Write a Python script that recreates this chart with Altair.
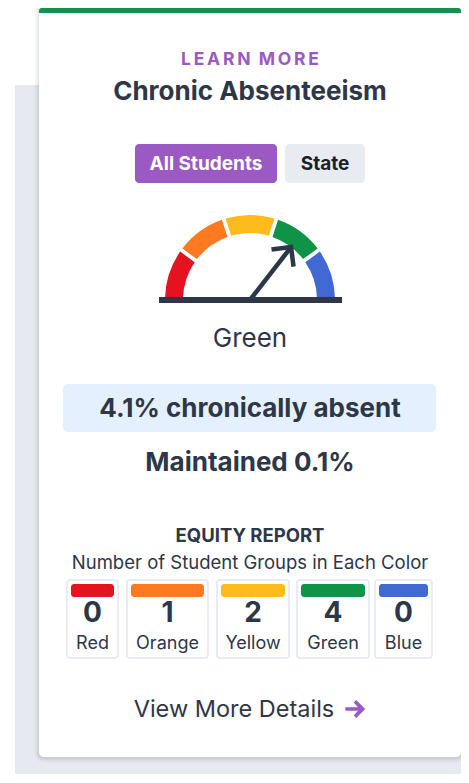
import math
import altair as alt
import pandas as pd

# ---------------- data ----------------
section_label = "LEARN MORE"
indicator_title = "Chronic Absenteeism"
toggle_labels = ["All Students", "State"]
gauge_levels = ["Red", "Orange", "Yellow", "Green", "Blue"]
gauge_colors = ["#e3141f", "#fd7a20", "#ffbb1c", "#0f9447", "#4169d4"]
status_label = "Green"
needle_value = 3.55          # position of needle on the 0..5 level scale
rate_value = 4.1
rate_text = f"{rate_value}% chronically absent"
change_text = "Maintained 0.1%"
equity_heading = "EQUITY REPORT"
equity_sub = "Number of Student Groups in Each Color"
group_names = ["Red", "Orange", "Yellow", "Green", "Blue"]
group_counts = [0, 1, 2, 4, 0]
group_colors = ["#e11b2b", "#ff7333", "#ffb83a", "#15914d", "#4a6bd1"]
link_text = "View More Details"

# ---------------- layout (page pixel coordinates) ----------------
W, H = 453, 766
FONT = "Inter"
DARK = "#2d3748"
PURPLE = "#9b59c4"

def px(x):
    return x - 8

def py(y):
    return y - 8

XS = alt.Scale(domain=[8, 8 + W], range=[0, W])
YS = alt.Scale(domain=[8, 8 + H], range=[0, H])

one = pd.DataFrame({"k": [0]})

def rect(x0, y0, x1, y1, color, radius=0, opacity=1, stroke=None, sw=1, **kw):
    mk = dict(color=color, cornerRadius=radius, opacity=opacity)
    if stroke:
        mk.update(stroke=stroke, strokeWidth=sw)
    mk.update(kw)
    return alt.Chart(one).mark_rect(**mk).encode(
        x=alt.value(px(x0)), x2=alt.value(px(x1)),
        y=alt.value(py(y0)), y2=alt.value(py(y1)))

def txt(t, x, y, size, weight="normal", color=DARK, font=FONT):
    return alt.Chart(pd.DataFrame({"t": [t]})).mark_text(
        font=font, fontSize=size, fontWeight=weight, color=color,
        align="center", baseline="alphabetic").encode(
        text="t:N", x=alt.value(px(x)), y=alt.value(py(y)))

layers = []
# grey page background
layers.append(rect(15, 85, 8 + W, 8 + H, "#e6eaf0"))
# card shadow
for i, op in enumerate([0.035, 0.03, 0.025, 0.02, 0.015]):
    d = i + 1
    layers.append(rect(39 - d, 3 - d + 1, 461 + d, 757 + d + 1, "#1a202c", radius=5 + d, opacity=op))
# card
layers.append(rect(39, 3, 461, 757, "#ffffff", radius=5))
# green top border
layers.append(rect(39, 8, 461, 13, "#15914d", cornerRadiusTopLeft=4, cornerRadiusTopRight=4))

# titles
spaced = "\u2009".join(list(section_label)).replace("\u2009 \u2009", "\u2009\u2009\u2009")
layers.append(txt(spaced, 250, 65, 17.5, "bold", PURPLE))
layers.append(txt(indicator_title, 250, 100, 26, "bold"))

# toggle buttons
layers.append(rect(135, 144, 277, 183, PURPLE, radius=4))
layers.append(rect(285, 144, 365, 183, "#e8ecf1", radius=4))
layers.append(txt(toggle_labels[0], 206, 170, 19, "bold", "#ffffff"))
layers.append(txt(toggle_labels[1], 325, 170, 19, "bold", "#1a202c"))

# gauge
CX, CY, R_OUT, R_IN, NEEDLE = 250, 300, 85, 67, 67
gauge_df = pd.DataFrame({
    "level": gauge_levels,
    "start": list(range(len(gauge_levels))),
    "end": [i + 1 for i in range(len(gauge_levels))],
})
TS = alt.Scale(domain=[0, len(gauge_levels)], range=[-math.pi / 2, math.pi / 2])
gauge = alt.Chart(gauge_df).mark_arc(radius=R_OUT, radius2=R_IN, padAngle=0.035).encode(
    theta=alt.Theta("start:Q", scale=TS, stack=False),
    theta2="end:Q",
    color=alt.Color("level:N", scale=alt.Scale(domain=gauge_levels, range=gauge_colors), legend=None),
    x=alt.value(px(CX)), y=alt.value(py(CY)),
)
layers.append(gauge)

ang = -math.pi / 2 + needle_value / len(gauge_levels) * math.pi
needle_df = pd.DataFrame({
    "bx": [CX], "by": [CY],
    "tx": [CX + NEEDLE * math.sin(ang)], "ty": [CY - NEEDLE * math.cos(ang)],
    "deg": [math.degrees(ang)],
})
needle = alt.Chart(needle_df).mark_rule(color=DARK, strokeWidth=4.5).encode(
    x=alt.X("bx:Q", scale=XS, axis=None), y=alt.Y("by:Q", scale=YS, axis=None),
    x2="tx:Q", y2="ty:Q")
head = alt.Chart(needle_df).mark_point(
    shape="M-0.72,0.72L0,0L0.72,0.72", filled=False, color=DARK, strokeWidth=4.5,
    size=1500, opacity=1, strokeJoin="miter", strokeCap="butt").encode(
    x=alt.X("tx:Q", scale=XS, axis=None), y=alt.Y("ty:Q", scale=YS, axis=None),
    angle=alt.Angle("deg:Q", scale=alt.Scale(domain=[-360, 360], range=[-360, 360])))
layers.append(needle)
layers.append(head)
# baseline
layers.append(rect(159, 297, 342, 303, DARK))
layers.append(txt(status_label, 250, 347, 26, "normal"))

# rate box
layers.append(rect(63, 384, 436, 432, "#e4f0fd", radius=5))
layers.append(txt(rate_text, 250, 417, 26, "bold"))
layers.append(txt(change_text, 250, 471, 26, "bold"))

# equity report
layers.append(txt(equity_heading, 250, 542, 18.5, "bold"))
layers.append(txt(equity_sub, 250, 569, 18.5, "normal"))

box_left = [67, 127, 217, 297, 375]
box_right = [118, 208, 289, 369, 432]
eq = pd.DataFrame({
    "name": group_names, "count": group_counts,
    "x0": box_left, "x1": box_right,
})
eq["xc"] = (eq["x0"] + eq["x1"]) / 2
eq["bx0"] = eq["x0"] + 4
eq["bx1"] = eq["x1"] - 4
eq["y0"], eq["y1"] = 580, 658
eq["cy0"], eq["cy1"] = 584, 597
eq["ny"], eq["ly"] = 622, 649

base = alt.Chart(eq)
boxes = base.mark_rect(fill="#ffffff", stroke="#e2e8f0", strokeWidth=1.5, cornerRadius=3).encode(
    x=alt.X("x0:Q", scale=XS, axis=None), x2="x1:Q",
    y=alt.Y("y0:Q", scale=YS, axis=None), y2="y1:Q")
bars = base.mark_rect(cornerRadius=3).encode(
    x=alt.X("bx0:Q", scale=XS, axis=None), x2="bx1:Q",
    y=alt.Y("cy0:Q", scale=YS, axis=None), y2="cy1:Q",
    color=alt.Color("name:N", scale=alt.Scale(domain=group_names, range=group_colors), legend=None))
nums = base.mark_text(font=FONT, fontSize=28, fontWeight="bold", color=DARK, align="center", baseline="alphabetic").encode(
    x=alt.X("xc:Q", scale=XS, axis=None), y=alt.Y("ny:Q", scale=YS, axis=None), text="count:Q")
labs = base.mark_text(font=FONT, fontSize=18, color=DARK, align="center", baseline="alphabetic").encode(
    x=alt.X("xc:Q", scale=XS, axis=None), y=alt.Y("ly:Q", scale=YS, axis=None), text="name:N")
layers += [boxes, bars, nums, labs]

# link
layers.append(txt(link_text, 234, 717, 23.5, "normal"))
arrow = alt.Chart(one).mark_point(
    shape="M-0.9,-0.17L0.28,-0.17L-0.12,-0.6L0.12,-0.84L0.95,0L0.12,0.84L-0.12,0.6L0.28,0.17L-0.9,0.17Z",
    filled=True, color=PURPLE, size=460, opacity=1).encode(
    x=alt.value(px(355)), y=alt.value(py(709)))
layers.append(arrow)

chart = alt.layer(*layers).properties(
    width=W, height=H, padding=0, autosize=alt.AutoSizeParams(type="none"),
    background="#ffffff",
).configure_view(strokeWidth=0)

chart.save("out.html", embed_options={"renderer": "svg", "actions": False})
